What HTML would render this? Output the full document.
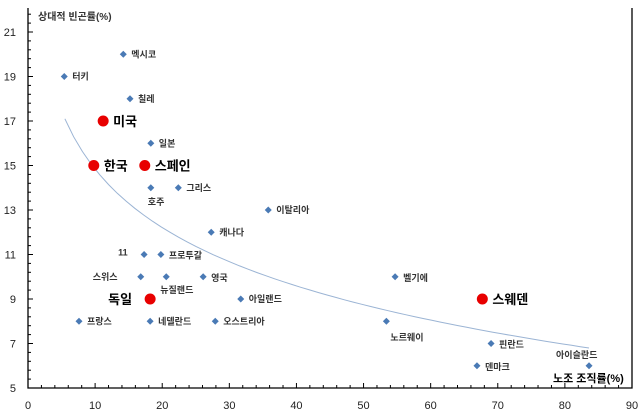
<!DOCTYPE html>
<html><head><meta charset="utf-8"><style>
body{margin:0;background:#fff;}
svg{display:block;font-family:"Liberation Sans","Noto Sans CJK KR","NanumGothic",sans-serif;}
.sm{font-size:9px;fill:#333;font-weight:bold;}
.big{font-size:13px;fill:#000;font-weight:bold;}
.tk{font-size:11px;fill:#222;}
</style></head><body>
<svg id="chart" width="640" height="415" viewBox="0 0 640 415">
<g id="axes"></g>
<path id="trend" fill="none" stroke="#9bb4d4" stroke-width="1"></path>
<g id="pts"></g>
<text x="38" y="20" class="sm" style="font-size:10px">상대적 빈곤률(%)</text>
<text x="553" y="382" class="big" style="font-size:11px">노조 조직률(%)</text>
</svg>
<script>
const countries=["멕시코","터키","칠레","미국","일본","한국","스페인","호주","그리스","이탈리아","캐나다","11","프로투갈","스위스","뉴질랜드","영국","독일","아일랜드","프랑스","네델란드","오스트리아","벨기에","스웨덴","노르웨이","핀란드","덴마크","아이슬란드"];
const unionRate=[14.2,5.4,15.2,11.2,18.3,9.8,17.4,18.3,22.4,35.8,27.3,17.3,19.8,16.8,20.6,26.1,18.2,31.7,7.6,18.2,27.9,54.7,67.7,53.4,69,66.9,83.6];
const povertyRate=[20,19,18,17,16,15,15,14,14,13,12,11,11,10,10,10,9,9,8,8,8,10,9,8,7,6,6];
const highlight=[0,0,0,1,0,1,1,0,0,0,0,0,0,0,0,0,1,0,0,0,0,0,1,0,0,0,0];
const labelDx=[8,8,8,10,8,10,10,-3,8,8,8,-26,8,-48,-6,8,-42,8,8,8,8,8,10,4,8,8,-33];
const labelDy=[3,3,3,5,3,5,5,17,3,3,3,1,4,3,16,4,5,3,3,3,3,4,5,19,4,4,-8];
const xTicks=[0,10,20,30,40,50,60,70,80,90];
const yTicks=[5,7,9,11,13,15,17,19,21];
const trendCoef=[23.55,-3.785];
const trendRange=[5.5,83.6];
const X=v=>28+v*6.711, Y=v=>388-(v-5)*22.25;
const NS="http://www.w3.org/2000/svg";
function mk(t,a,p){const e=document.createElementNS(NS,t);for(const k in a)e.setAttribute(k,a[k]);p.appendChild(e);return e;}
const ax=document.getElementById('axes');
let l=mk('path',{d:`M28 8V388H632V8`,fill:'none',stroke:'#000','stroke-width':1.3},ax);


for(let v=0;v<=90;v+=2){const t=mk('line',{x1:X(v),x2:X(v),y1:388,y2:v%10==0?383:385,stroke:'#000'},ax);}
for(let v=5;v<=22;v+=0.4){const t=mk('line',{x1:28,x2:Math.abs((v-5)/2-Math.round((v-5)/2))<0.01?33:31,y1:Y(v),y2:Y(v),stroke:'#000'},ax);}
xTicks.forEach(v=>{const t=mk('text',{x:X(v),y:409,'text-anchor':'middle',class:'tk'},ax);t.textContent=v;});
yTicks.forEach(v=>{const t=mk('text',{x:16,y:Y(v)+4,'text-anchor':'end',class:'tk'},ax);t.textContent=v;});
let d='';for(let i=0;i<=60;i++){const x=trendRange[0]+(trendRange[1]-trendRange[0])*i/60;d+=(i?'L':'M')+X(x).toFixed(1)+' '+Y(trendCoef[0]+trendCoef[1]*Math.log(x)).toFixed(1);}
document.getElementById('trend').setAttribute('d',d);
const g=document.getElementById('pts');
countries.forEach((c,i)=>{const x=X(unionRate[i]),y=Y(povertyRate[i]);let m;
if(highlight[i]){m=mk('circle',{cx:x,cy:y,r:5.5,fill:'#e80000'},g);}
else{m=mk('path',{d:`M${x} ${y-3.5}L${x+3.5} ${y}L${x} ${y+3.5}L${x-3.5} ${y}Z`,fill:'#4a7ab5'},g);}


const t=mk('text',{x:x+labelDx[i],y:y+labelDy[i],class:highlight[i]?'big':'sm'},g);t.textContent=c;

});
</script>
</body></html>
